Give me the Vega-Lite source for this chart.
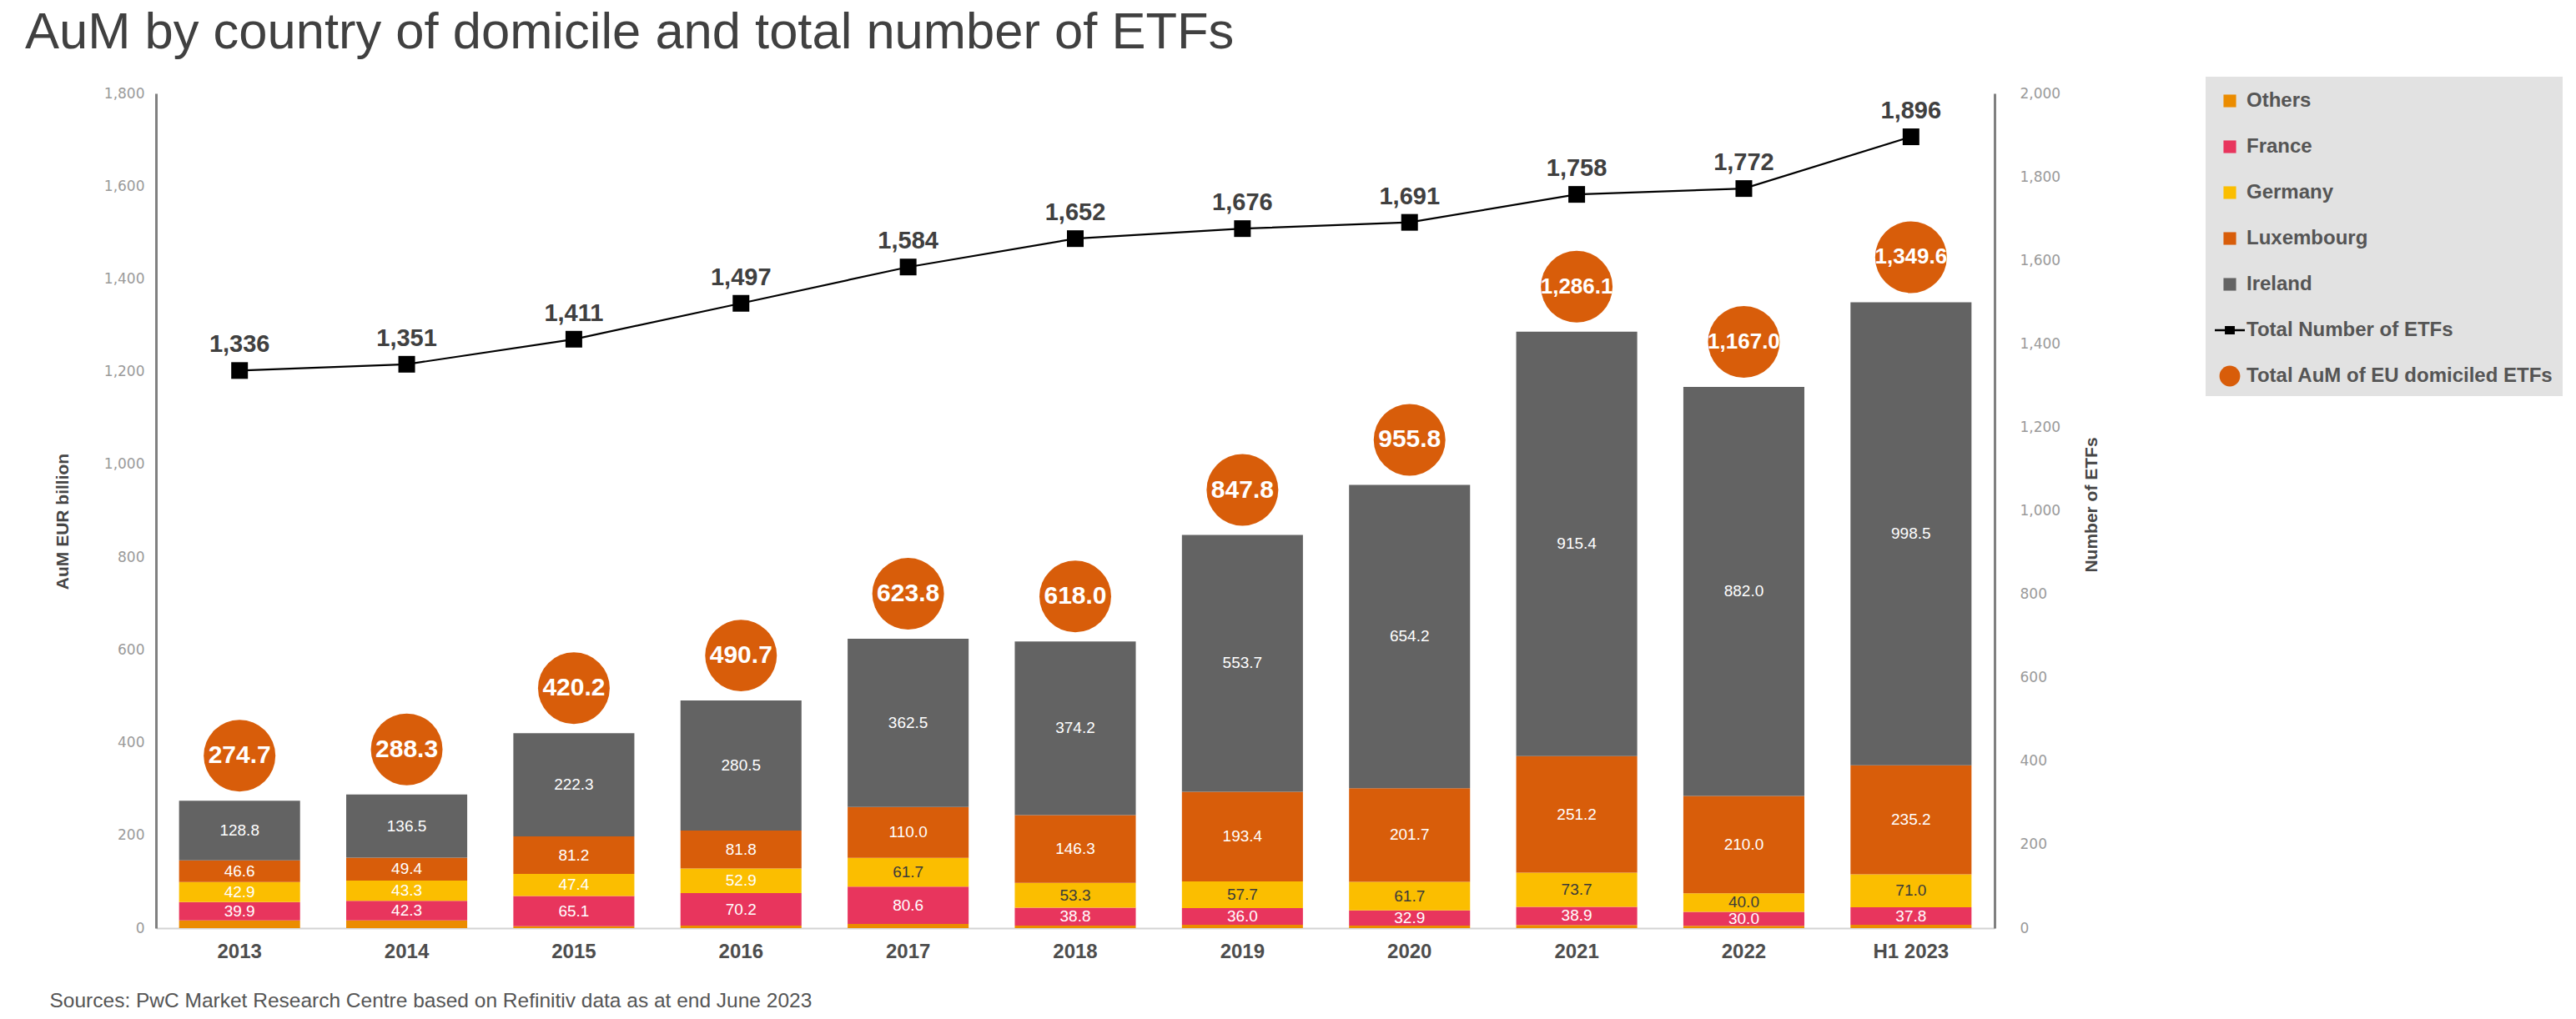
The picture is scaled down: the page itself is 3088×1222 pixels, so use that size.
{
  "$schema": "https://vega.github.io/schema/vega-lite/v6.json",
  "width": 2204,
  "height": 1001,
  "autosize": {"type": "none"},
  "padding": {"left": 187, "top": 112, "right": 697, "bottom": 109},
  "background": "#ffffff",
  "title": {
    "text": "AuM by country of domicile and total number of ETFs",
    "anchor": "start",
    "frame": "group",
    "dx": -157,
    "dy": 58,
    "offset": 31,
    "baseline": "alphabetic",
    "font": "Liberation Sans",
    "fontSize": 61.5,
    "fontWeight": "normal",
    "color": "#404040"
  },
  "config": {
    "view": {"stroke": null},
    "axis": {"grid": false, "ticks": false}
  },
  "datasets": {
    "aum": [
      {"year": "2013", "series": "Others", "value": 16.5},
      {"year": "2013", "series": "France", "value": 39.9},
      {"year": "2013", "series": "Germany", "value": 42.9},
      {"year": "2013", "series": "Luxembourg", "value": 46.6},
      {"year": "2013", "series": "Ireland", "value": 128.8},
      {"year": "2014", "series": "Others", "value": 16.8},
      {"year": "2014", "series": "France", "value": 42.3},
      {"year": "2014", "series": "Germany", "value": 43.3},
      {"year": "2014", "series": "Luxembourg", "value": 49.4},
      {"year": "2014", "series": "Ireland", "value": 136.5},
      {"year": "2015", "series": "Others", "value": 4.2},
      {"year": "2015", "series": "France", "value": 65.1},
      {"year": "2015", "series": "Germany", "value": 47.4},
      {"year": "2015", "series": "Luxembourg", "value": 81.2},
      {"year": "2015", "series": "Ireland", "value": 222.3},
      {"year": "2016", "series": "Others", "value": 5.3},
      {"year": "2016", "series": "France", "value": 70.2},
      {"year": "2016", "series": "Germany", "value": 52.9},
      {"year": "2016", "series": "Luxembourg", "value": 81.8},
      {"year": "2016", "series": "Ireland", "value": 280.5},
      {"year": "2017", "series": "Others", "value": 9.0},
      {"year": "2017", "series": "France", "value": 80.6},
      {"year": "2017", "series": "Germany", "value": 61.7},
      {"year": "2017", "series": "Luxembourg", "value": 110.0},
      {"year": "2017", "series": "Ireland", "value": 362.5},
      {"year": "2018", "series": "Others", "value": 5.4},
      {"year": "2018", "series": "France", "value": 38.8},
      {"year": "2018", "series": "Germany", "value": 53.3},
      {"year": "2018", "series": "Luxembourg", "value": 146.3},
      {"year": "2018", "series": "Ireland", "value": 374.2},
      {"year": "2019", "series": "Others", "value": 7.0},
      {"year": "2019", "series": "France", "value": 36.0},
      {"year": "2019", "series": "Germany", "value": 57.7},
      {"year": "2019", "series": "Luxembourg", "value": 193.4},
      {"year": "2019", "series": "Ireland", "value": 553.7},
      {"year": "2020", "series": "Others", "value": 5.3},
      {"year": "2020", "series": "France", "value": 32.9},
      {"year": "2020", "series": "Germany", "value": 61.7},
      {"year": "2020", "series": "Luxembourg", "value": 201.7},
      {"year": "2020", "series": "Ireland", "value": 654.2},
      {"year": "2021", "series": "Others", "value": 6.9},
      {"year": "2021", "series": "France", "value": 38.9},
      {"year": "2021", "series": "Germany", "value": 73.7},
      {"year": "2021", "series": "Luxembourg", "value": 251.2},
      {"year": "2021", "series": "Ireland", "value": 915.4},
      {"year": "2022", "series": "Others", "value": 5.0},
      {"year": "2022", "series": "France", "value": 30.0},
      {"year": "2022", "series": "Germany", "value": 40.0},
      {"year": "2022", "series": "Luxembourg", "value": 210.0},
      {"year": "2022", "series": "Ireland", "value": 882.0},
      {"year": "H1 2023", "series": "Others", "value": 7.1},
      {"year": "H1 2023", "series": "France", "value": 37.8},
      {"year": "H1 2023", "series": "Germany", "value": 71.0},
      {"year": "H1 2023", "series": "Luxembourg", "value": 235.2},
      {"year": "H1 2023", "series": "Ireland", "value": 998.5}
    ],
    "totals": [
      {"year": "2013", "series": "Total AuM of EU domiciled ETFs", "total": 274.7},
      {"year": "2014", "series": "Total AuM of EU domiciled ETFs", "total": 288.3},
      {"year": "2015", "series": "Total AuM of EU domiciled ETFs", "total": 420.2},
      {"year": "2016", "series": "Total AuM of EU domiciled ETFs", "total": 490.7},
      {"year": "2017", "series": "Total AuM of EU domiciled ETFs", "total": 623.8},
      {"year": "2018", "series": "Total AuM of EU domiciled ETFs", "total": 618.0},
      {"year": "2019", "series": "Total AuM of EU domiciled ETFs", "total": 847.8},
      {"year": "2020", "series": "Total AuM of EU domiciled ETFs", "total": 955.8},
      {"year": "2021", "series": "Total AuM of EU domiciled ETFs", "total": 1286.1},
      {"year": "2022", "series": "Total AuM of EU domiciled ETFs", "total": 1167.0},
      {"year": "H1 2023", "series": "Total AuM of EU domiciled ETFs", "total": 1349.6}
    ],
    "etfs": [
      {"year": "2013", "series": "Total Number of ETFs", "count": 1336},
      {"year": "2014", "series": "Total Number of ETFs", "count": 1351},
      {"year": "2015", "series": "Total Number of ETFs", "count": 1411},
      {"year": "2016", "series": "Total Number of ETFs", "count": 1497},
      {"year": "2017", "series": "Total Number of ETFs", "count": 1584},
      {"year": "2018", "series": "Total Number of ETFs", "count": 1652},
      {"year": "2019", "series": "Total Number of ETFs", "count": 1676},
      {"year": "2020", "series": "Total Number of ETFs", "count": 1691},
      {"year": "2021", "series": "Total Number of ETFs", "count": 1758},
      {"year": "2022", "series": "Total Number of ETFs", "count": 1772},
      {"year": "H1 2023", "series": "Total Number of ETFs", "count": 1896}
    ]
  },
  "encoding": {
    "x": {
      "field": "year",
      "type": "nominal",
      "scale": {
        "domain": ["2013", "2014", "2015", "2016", "2017", "2018", "2019", "2020", "2021", "2022", "H1 2023"],
        "paddingInner": 0.276,
        "paddingOuter": 0.138
      },
      "axis": {
        "title": "Sources: PwC Market Research Centre based on Refinitiv data as at end June 2023",
        "labelAngle": 0,
        "domainColor": "#d4d4d4",
        "domainWidth": 2,
        "ticks": false,
        "labelFont": "Liberation Sans",
        "labelFontSize": 24,
        "labelFontWeight": "bold",
        "labelColor": "#4d4d4d",
        "labelPadding": 16,
        "titleFont": "Liberation Sans",
        "titleFontSize": 24.5,
        "titleFontWeight": "normal",
        "titleColor": "#555555",
        "titleAnchor": "start",
        "titleAlign": "left",
        "titleBaseline": "alphabetic",
        "titleX": -128,
        "titleY": 94
      }
    }
  },
  "layer": [
    {
      "data": {"name": "aum"},
      "transform": [
        {"calculate": "indexof(['Others','France','Germany','Luxembourg','Ireland'], datum.series)", "as": "rank"},
        {"stack": "value", "groupby": ["year"], "sort": [{"field": "rank", "order": "ascending"}], "as": ["v0", "v1"]}
      ],
      "mark": {"type": "bar"},
      "encoding": {
        "y": {
          "field": "v0",
          "type": "quantitative",
          "scale": {"domain": [0, 1800], "nice": false, "zero": true},
          "axis": {
            "orient": "left",
            "title": "AuM EUR billion",
            "values": [0, 200, 400, 600, 800, 1000, 1200, 1400, 1600, 1800],
            "format": ",d",
            "domainColor": "#808080",
            "domainWidth": 3,
            "ticks": false,
            "labelFont": "DejaVu Sans",
            "labelFontSize": 17,
            "labelColor": "#9a9a9a",
            "labelPadding": 14,
            "titleFont": "Liberation Sans",
            "titleFontSize": 21,
            "titleFontWeight": "bold",
            "titleColor": "#454545",
            "titleAngle": 270,
            "titleX": -112,
            "titleY": 513,
            "titleBaseline": "middle",
            "titleAlign": "center"
          }
        },
        "y2": {"field": "v1"},
        "color": {
          "field": "series",
          "type": "nominal",
          "scale": {
            "domain": ["Others", "France", "Germany", "Luxembourg", "Ireland", "Total Number of ETFs", "Total AuM of EU domiciled ETFs"],
            "range": ["#EB8C00", "#E8355D", "#FBBE00", "#D85D0A", "#636363", "#000000", "#D85D0A"]
          },
          "legend": {
            "title": null,
            "orient": "none",
            "legendX": 2457,
            "legendY": -20,
            "direction": "vertical",
            "fillColor": "#E2E2E2",
            "padding": 11,
            "rowPadding": 25,
            "symbolSize": 1296,
            "labelFont": "Liberation Sans",
            "labelFontSize": 24,
            "labelFontWeight": "bold",
            "labelColor": "#555555",
            "labelOffset": 2,
            "labelLimit": 800,
            "encode": {
              "symbols": {
                "update": {
                  "shape": {"signal": "datum.value === 'Total Number of ETFs' ? 'M-1,-0.07H1V0.07H-1Z M-0.33,-0.28H0.33V0.28H-0.33Z' : datum.value === 'Total AuM of EU domiciled ETFs' ? 'M0.69,0A0.69,0.69 0 1,1 -0.69,0A0.69,0.69 0 1,1 0.69,0Z' : 'M-0.42,-0.42H0.42V0.42H-0.42Z'"},
                  "fill": {"scale": "color", "field": "value"},
                  "stroke": {"value": "transparent"},
                  "strokeWidth": {"value": 0},
                  "opacity": {"value": 1}
                }
              }
            }
          }
        }
      }
    },
    {
      "data": {"name": "aum"},
      "transform": [
        {"calculate": "indexof(['Others','France','Germany','Luxembourg','Ireland'], datum.series)", "as": "rank"},
        {"stack": "value", "groupby": ["year"], "sort": [{"field": "rank", "order": "ascending"}], "as": ["v0", "v1"]},
        {"calculate": "(datum.v0 + datum.v1) / 2", "as": "mid"},
        {"filter": "datum.series !== 'Others'"}
      ],
      "mark": {"type": "text", "font": "Liberation Sans", "fontSize": 19, "baseline": "middle", "align": "center"},
      "encoding": {
        "y": {"field": "mid", "type": "quantitative", "scale": {"domain": [0, 1800], "nice": false}, "axis": null},
        "text": {"field": "value", "type": "quantitative", "format": ".1f"},
        "color": {
          "condition": {"test": "datum.series === 'Germany' && indexof(['2013','2014','2015','2016'], datum.year) < 0", "value": "#3a3a3a"},
          "value": "#ffffff"
        }
      }
    },
    {
      "data": {"name": "totals"},
      "mark": {"type": "point", "shape": "circle", "filled": true, "opacity": 1, "size": 7390, "yOffset": -54},
      "encoding": {
        "y": {"field": "total", "type": "quantitative", "scale": {"domain": [0, 1800], "nice": false}, "axis": null},
        "color": {
          "field": "series",
          "type": "nominal",
          "scale": {
            "domain": ["Others", "France", "Germany", "Luxembourg", "Ireland", "Total Number of ETFs", "Total AuM of EU domiciled ETFs"],
            "range": ["#EB8C00", "#E8355D", "#FBBE00", "#D85D0A", "#636363", "#000000", "#D85D0A"]
          }
        }
      }
    },
    {
      "data": {"name": "totals"},
      "mark": {"type": "text", "font": "Liberation Sans", "fontWeight": "bold", "baseline": "middle", "align": "center", "color": "#ffffff", "yOffset": -54},
      "encoding": {
        "y": {"field": "total", "type": "quantitative", "scale": {"domain": [0, 1800], "nice": false}, "axis": null},
        "text": {"field": "total", "type": "quantitative", "format": ",.1f"},
        "size": {"condition": {"test": "datum.total >= 1000", "value": 26}, "value": 30}
      }
    },
    {
      "data": {"name": "etfs"},
      "mark": {"type": "line", "color": "#000000", "strokeWidth": 2.2},
      "encoding": {
        "y": {
          "field": "count",
          "type": "quantitative",
          "scale": {"domain": [0, 2000], "nice": false, "zero": true},
          "axis": {
            "orient": "right",
            "title": "Number of ETFs",
            "values": [0, 200, 400, 600, 800, 1000, 1200, 1400, 1600, 1800, 2000],
            "format": ",d",
            "domainColor": "#808080",
            "domainWidth": 3,
            "ticks": false,
            "labelFont": "DejaVu Sans",
            "labelFontSize": 17,
            "labelColor": "#9a9a9a",
            "labelPadding": 30,
            "titleFont": "Liberation Sans",
            "titleFontSize": 21,
            "titleFontWeight": "bold",
            "titleColor": "#454545",
            "titleAngle": 270,
            "titleX": 116,
            "titleY": 493,
            "titleBaseline": "middle",
            "titleAlign": "center"
          }
        }
      }
    },
    {
      "data": {"name": "etfs"},
      "mark": {"type": "point", "shape": "square", "filled": true, "opacity": 1, "size": 400},
      "encoding": {
        "y": {"field": "count", "type": "quantitative", "scale": {"domain": [0, 2000], "nice": false}, "axis": null},
        "color": {
          "field": "series",
          "type": "nominal",
          "scale": {
            "domain": ["Others", "France", "Germany", "Luxembourg", "Ireland", "Total Number of ETFs", "Total AuM of EU domiciled ETFs"],
            "range": ["#EB8C00", "#E8355D", "#FBBE00", "#D85D0A", "#636363", "#000000", "#D85D0A"]
          }
        }
      }
    },
    {
      "data": {"name": "etfs"},
      "mark": {"type": "text", "font": "Liberation Sans", "fontSize": 29, "fontWeight": "bold", "baseline": "middle", "align": "center", "color": "#404040", "dy": -31},
      "encoding": {
        "y": {"field": "count", "type": "quantitative", "scale": {"domain": [0, 2000], "nice": false}, "axis": null},
        "text": {"field": "count", "type": "quantitative", "format": ",d"}
      }
    }
  ],
  "resolve": {"scale": {"y": "independent"}}
}
